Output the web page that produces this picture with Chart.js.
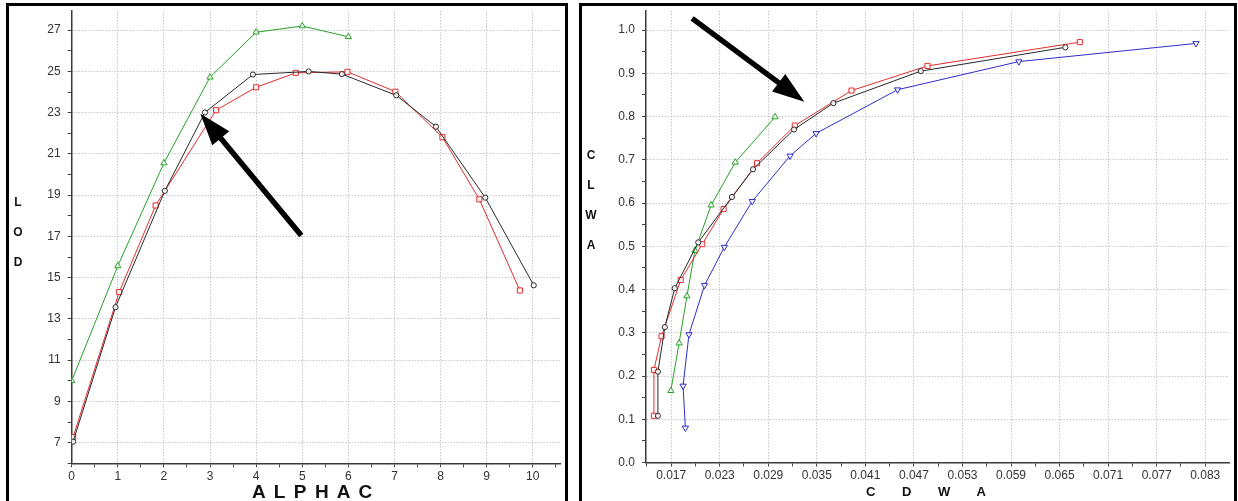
<!DOCTYPE html>
<html>
<head>
<meta charset="utf-8">
<script src="https://cdn.jsdelivr.net/npm/chart.js@4.4.1/dist/chart.umd.min.js"></script>
<style>
  html, body { margin: 0; padding: 0; background: #fff; overflow: hidden; }
  body { width: 1238px; height: 501px; position: relative; font-family: "Liberation Sans", Arial, sans-serif; }
  .panel { position: absolute; top: 3px; height: 498px; border: 3px solid #000; border-bottom: none; }
  .panel canvas { display: block; }
  .ytitle { position: absolute; width: 16px; text-align: center; font-weight: bold; font-size: 12px; line-height: 30px; color: #111; }
  .xtitle { position: absolute; font-weight: bold; color: #111; white-space: pre; }
</style>
</head>
<body>
<div class="panel" id="panelLeft" style="left:6px;width:556px;"><canvas id="leftChart" width="556" height="495"></canvas></div>
<div class="panel" id="panelRight" style="left:579px;width:652px;"><canvas id="rightChart" width="652" height="495"></canvas></div>

<div class="ytitle" style="left:10px;top:187px;">L<br>O<br>D</div>
<div class="ytitle" style="left:583px;top:140px;">C<br>L<br>W<br>A</div>
<div class="xtitle" style="left:252px;top:482px;font-size:19px;line-height:19px;word-spacing:3.5px;">A L P H A C</div>
<div class="xtitle" style="left:866px;top:485px;font-size:13px;line-height:13px;word-spacing:23px;">C D W A</div>

<script>
// ---- left chart: LOD vs ALPHAC ----
const leftXTicks = [0, 1, 2, 3, 4, 5, 6, 7, 8, 9, 10];
const leftYTicks = [7, 9, 11, 13, 15, 17, 19, 21, 23, 25, 27];

const leftGreenX = [0, 1, 2, 3, 4, 5, 6];
const leftGreenY = [10.0, 15.57, 20.56, 24.72, 26.9, 27.2, 26.68];

const leftBlackX = [0.03, 0.95, 2.02, 2.89, 3.93, 5.14, 5.86, 7.04, 7.9, 8.97, 10.02];
const leftBlackY = [7.05, 13.57, 19.21, 23.01, 24.85, 25.0, 24.87, 23.84, 22.32, 18.88, 14.63];

const leftRedX = [0.03, 1.03, 1.82, 3.13, 4.0, 4.86, 5.98, 7.02, 8.04, 8.84, 9.72];
const leftRedY = [7.27, 14.3, 18.5, 23.12, 24.23, 24.93, 24.98, 24.02, 21.81, 18.8, 14.38];

const leftArrowFrom = [4.98, 17.05];
const leftArrowTo = [2.79, 22.95];

// ---- right chart: CLWA vs CDWA ----
const rightXTicks = [0.017, 0.023, 0.029, 0.035, 0.041, 0.047, 0.053, 0.059, 0.065, 0.071, 0.077, 0.083];
const rightYTicks = [0.0, 0.1, 0.2, 0.3, 0.4, 0.5, 0.6, 0.7, 0.8, 0.9, 1.0];

const rightRedX = [0.01487, 0.01487, 0.01581, 0.01818, 0.02084, 0.02348, 0.02761, 0.03228, 0.03929, 0.04868, 0.06751];
const rightRedY = [0.108, 0.214, 0.292, 0.422, 0.505, 0.586, 0.692, 0.779, 0.860, 0.917, 0.972];

const rightBlackX = [0.01536, 0.01536, 0.01622, 0.01744, 0.02035, 0.02451, 0.02712, 0.03218, 0.03705, 0.04785, 0.06571];
const rightBlackY = [0.108, 0.210, 0.313, 0.403, 0.509, 0.614, 0.678, 0.770, 0.831, 0.905, 0.960];

const rightGreenX = [0.01696, 0.01798, 0.01895, 0.01994, 0.02194, 0.02492, 0.02984];
const rightGreenY = [0.166, 0.276, 0.385, 0.490, 0.595, 0.694, 0.799];

const rightBlueX = [0.01876, 0.01847, 0.0192, 0.02113, 0.02357, 0.02702, 0.03169, 0.03491, 0.04498, 0.05997, 0.08186];
const rightBlueY = [0.080, 0.177, 0.296, 0.410, 0.498, 0.604, 0.709, 0.761, 0.862, 0.927, 0.969];

const rightArrowFrom = [0.01959, 1.027];
const rightArrowTo = [0.03346, 0.834];


const GREEN = "rgb(40,160,40)";
const RED = "rgb(225,45,45)";
const BLACK = "rgb(40,40,40)";
const BLUE = "rgb(45,45,200)";

function points(xs, ys) {
  return xs.map((x, i) => ({ x: x, y: ys[i] }));
}

function series(xs, ys, color, style, rotation) {
  return {
    data: points(xs, ys),
    showLine: true,
    borderColor: color,
    borderWidth: 1,
    pointStyle: style,
    pointRotation: rotation || 0,
    pointRadius: style === "circle" ? 2.6 : 3.6,
    pointBorderColor: color,
    pointBackgroundColor: "rgba(255,255,255,0.85)",
    pointBorderWidth: 1,
    tension: 0
  };
}

// major ticks plus half-way minor ticks inside the axis range
function withMinor(major, min, max) {
  const step = major[1] - major[0];
  const all = [];
  const first = major[0] - step / 2;
  if (first >= min) all.push(first);
  major.forEach(v => {
    all.push(v);
    all.push(v + step / 2);
  });
  return all.filter(v => v >= min - 1e-9 && v <= max + 1e-9);
}

function isMajor(v, major) {
  return major.some(m => Math.abs(m - v) < 1e-7);
}

function makeAxis(major, min, max, fmt, size, horizontal) {
  return {
    type: "linear",
    min: min,
    max: max,
    afterBuildTicks: scale => {
      scale.ticks = withMinor(major, min, max).map(v => ({ value: v }));
    },
    afterFit: scale => {
      if (horizontal) scale.height = size;
      else scale.width = size;
      scale.paddingTop = 0;
      scale.paddingBottom = 0;
      scale.paddingLeft = 0;
      scale.paddingRight = 0;
    },
    ticks: {
      autoSkip: false,
      maxRotation: 0,
      padding: horizontal ? 2 : 7,
      color: "#333",
      font: { family: "'Liberation Sans', Arial, sans-serif", size: 12 },
      callback: v => (isMajor(v, major) ? fmt(v) : "")
    },
    grid: {
      color: c => (c.tick && isMajor(c.tick.value, major) ? "rgb(200,200,200)" : "rgba(0,0,0,0)"),
      tickColor: "#444",
      tickLength: 4,
      lineWidth: 1
    },
    border: { display: true, color: "#3a3a3a", width: 1.5, dash: [1.5, 1.5] }
  };
}

const arrowPlugin = {
  id: "bigArrow",
  afterDatasetsDraw(chart, args, opts) {
    const { ctx, scales } = chart;
    const x1 = scales.x.getPixelForValue(opts.from[0]);
    const y1 = scales.y.getPixelForValue(opts.from[1]);
    const x2 = scales.x.getPixelForValue(opts.to[0]);
    const y2 = scales.y.getPixelForValue(opts.to[1]);
    const ang = Math.atan2(y2 - y1, x2 - x1);
    const headLen = 32;
    const headW = 11;
    const bx = x2 - headLen * Math.cos(ang);
    const by = y2 - headLen * Math.sin(ang);
    ctx.save();
    ctx.strokeStyle = "#000";
    ctx.fillStyle = "#000";
    ctx.lineWidth = 5.5;
    ctx.beginPath();
    ctx.moveTo(x1, y1);
    ctx.lineTo(bx + 2 * Math.cos(ang), by + 2 * Math.sin(ang));
    ctx.stroke();
    ctx.beginPath();
    ctx.moveTo(x2, y2);
    ctx.lineTo(bx + headW * Math.sin(ang), by - headW * Math.cos(ang));
    ctx.lineTo(bx - headW * Math.sin(ang), by + headW * Math.cos(ang));
    ctx.closePath();
    ctx.fill();
    ctx.restore();
  }
};

function buildChart(id, datasets, xAxis, yAxis, arrow) {
  const ctx = document.getElementById(id).getContext("2d");
  return new Chart(ctx, {
    type: "scatter",
    data: { datasets: datasets },
    options: {
      responsive: false,
      animation: false,
      layout: { padding: 0 },
      plugins: {
        legend: { display: false },
        tooltip: { enabled: false },
        bigArrow: arrow
      },
      scales: { x: xAxis, y: yAxis }
    },
    plugins: [arrowPlugin]
  });
}

buildChart(
  "leftChart",
  [
    series(leftBlackX, leftBlackY, BLACK, "circle"),
    series(leftRedX, leftRedY, RED, "rect"),
    series(leftGreenX, leftGreenY, GREEN, "triangle")
  ],
  makeAxis(leftXTicks, 0, 10.59, v => String(Math.round(v)), 37.7, true),
  makeAxis(leftYTicks, 6, 27.93, v => String(Math.round(v)), 62.7, false),
  { from: leftArrowFrom, to: leftArrowTo }
);

buildChart(
  "rightChart",
  [
    series(rightBlackX, rightBlackY, BLACK, "circle"),
    series(rightRedX, rightRedY, RED, "rect"),
    series(rightGreenX, rightGreenY, GREEN, "triangle"),
    series(rightBlueX, rightBlueY, BLUE, "triangle", 180)
  ],
  makeAxis(rightXTicks, 0.01389, 0.08594, v => v.toFixed(3), 38.5, true),
  makeAxis(rightYTicks, 0, 1.044, v => v.toFixed(1), 64, false),
  { from: rightArrowFrom, to: rightArrowTo }
);
</script>
</body>
</html>
